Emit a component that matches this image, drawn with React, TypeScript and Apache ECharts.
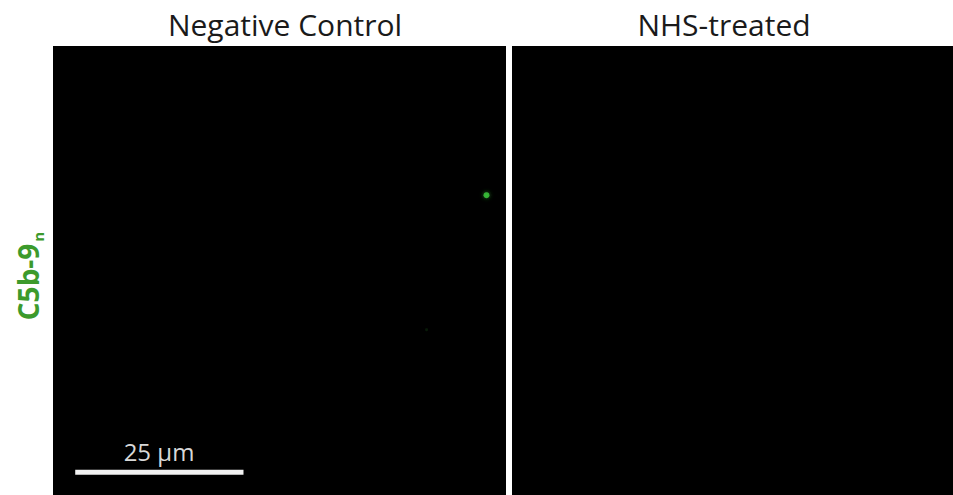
import React, { useEffect, useRef } from "react";
import * as echarts from "echarts";

// Panel titles and row label
const panelTitles = ["Negative Control", "NHS-treated"];
const rowLabel = "C5b-9";
const rowLabelSub = "n";

// Field of view in micrometres (each panel)
const fieldWidthUm = [67.3, 65.6];
const fieldHeightUm = 66.8;

// Bright C5b-9n spots per panel: [x µm, y µm from top]
const spotsNegative: number[][] = [[64.4, 22.2]];
const faintSpotsNegative: number[][] = [[55.5, 42.2]];
const spotsNHS: number[][] = [];

// Scale bar: start and length in µm (y from top)
const scaleBarStartUm = 3.3;
const scaleBarLengthUm = 25;
const scaleBarYUm = 63.4;
const scaleBarLabel = "25 µm";

export default function App() {
  const ref = useRef<HTMLDivElement>(null);
  useEffect(() => {
    document.body.style.margin = "0";
    const chart = echarts.init(ref.current!, undefined, { renderer: "svg" });
    const L = { left: 53, top: 46, width: 453, height: 449 };
    const R = { left: 512, top: 46, width: 441, height: 449 };
    const hiddenAxis = (min: number, max: number, inverse = false) => ({
      type: "value" as const,
      min,
      max,
      inverse,
      show: false,
    });
    chart.setOption({
      animation: false,
      backgroundColor: "#ffffff",
      grid: [
        { ...L, show: true, backgroundColor: "#000000", borderWidth: 0 },
        { ...R, show: true, backgroundColor: "#000000", borderWidth: 0 },
      ],
      xAxis: [
        { ...hiddenAxis(0, fieldWidthUm[0]), gridIndex: 0 },
        { ...hiddenAxis(0, fieldWidthUm[1]), gridIndex: 1 },
      ],
      yAxis: [
        { ...hiddenAxis(0, fieldHeightUm, true), gridIndex: 0 },
        { ...hiddenAxis(0, fieldHeightUm, true), gridIndex: 1 },
      ],
      series: [
        {
          type: "scatter",
          xAxisIndex: 0,
          yAxisIndex: 0,
          data: spotsNegative,
          symbolSize: 6,
          itemStyle: { color: "#3fd23f", shadowBlur: 4, shadowColor: "#2a8a2a" },
        },
        {
          type: "scatter",
          xAxisIndex: 0,
          yAxisIndex: 0,
          data: faintSpotsNegative,
          symbolSize: 3,
          itemStyle: { color: "#0a200a" },
        },
        {
          type: "scatter",
          xAxisIndex: 1,
          yAxisIndex: 1,
          data: spotsNHS,
          symbolSize: 6,
          itemStyle: { color: "#3fd23f" },
        },
        {
          type: "line",
          xAxisIndex: 0,
          yAxisIndex: 0,
          data: [
            [scaleBarStartUm, scaleBarYUm],
            [scaleBarStartUm + scaleBarLengthUm, scaleBarYUm],
          ],
          symbol: "none",
          lineStyle: { color: "#f2f2f2", width: 5, cap: "butt" },
        },
      ],
      graphic: [
        {
          type: "text",
          x: 285,
          y: 24,
          style: {
            text: panelTitles[0],
            fill: "#1a1a1a",
            font: "30px 'Open Sans'",
            textAlign: "center",
            textVerticalAlign: "middle",
          },
        },
        {
          type: "text",
          x: 724,
          y: 24,
          style: {
            text: panelTitles[1],
            fill: "#1a1a1a",
            font: "30px 'Open Sans'",
            textAlign: "center",
            textVerticalAlign: "middle",
          },
        },
        {
          type: "text",
          x: 28,
          y: 276,
          rotation: Math.PI / 2,
          style: {
            text: "{a|" + rowLabel + "}{b|" + rowLabelSub + "}",
            textAlign: "center",
            textVerticalAlign: "middle",
            rich: {
              a: {
                fontFamily: "Open Sans",
                fontWeight: "bold",
                fontSize: 28,
                fill: "#3c9a2c",
                color: "#3c9a2c",
              },
              b: {
                fontFamily: "Open Sans",
                fontWeight: "bold",
                fontSize: 15,
                fill: "#3c9a2c",
                color: "#3c9a2c",
                padding: [20, 0, 0, 2],
              },
            },
          },
        },
        {
          type: "text",
          x: 159,
          y: 451,
          style: {
            text: scaleBarLabel,
            fill: "#d8d8d8",
            font: "24px 'Open Sans'",
            textAlign: "center",
            textVerticalAlign: "middle",
          },
        },
      ],
    });
    return () => chart.dispose();
  }, []);
  return <div ref={ref} style={{ width: 953, height: 495 }} />;
}
